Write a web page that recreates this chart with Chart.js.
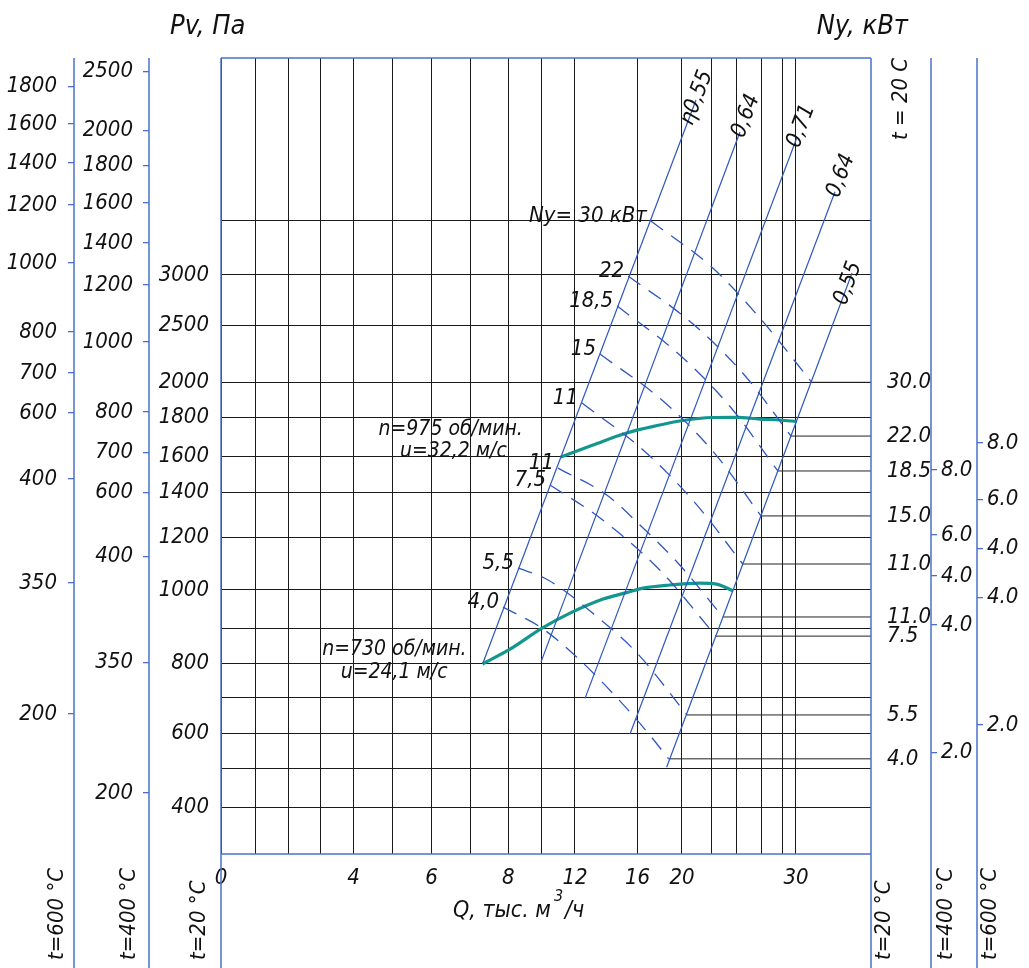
<!DOCTYPE html>
<html>
<head>
<meta charset="utf-8">
<script src="https://cdn.jsdelivr.net/npm/chart.js@4.4.1/dist/chart.umd.min.js"></script>
<style>html,body{margin:0;padding:0;background:#fff}</style>
</head>
<body>
<canvas id="grafico" width="1029" height="968"></canvas>
<script>
// ---------- данные (Q в тыс. м3/ч, Pv в Па при t = 20 °C) ----------
const qLabeled = [0, 4, 6, 8, 12, 16, 20, 30];
const pLabeled = [400, 600, 800, 1000, 1200, 1400, 1600, 1800, 2000, 2500, 3000];

// характеристики вентилятора
const q975 = [11.15, 13.15, 15.3, 18.0, 19.8, 22.1, 24.0, 25.9, 27.75, 30.1];
const p975 = [1595, 1657, 1719, 1760, 1781, 1799, 1800, 1791, 1786, 1778];
const q730 = [7.32, 8.1, 10.0, 11.7, 13.8, 15.3, 16.5, 18.9, 21.2, 22.4, 23.7];
const p730 = [798, 840, 899, 939, 976, 993, 1007, 1019, 1026, 1022, 998];

// лучи КПД: [начало, конец]
const etaLabels = ['η0,55', '0,64', '0,71', '0,64', '0,55'];
const etaQ = [[7.32, 20.95], [9.96, 24.27], [12.64, 30.09], [15.52, 35.2], [18.62, 37.47]];
const etaP = [[798, 4613], [804, 4318], [699, 4260], [598, 3767], [503, 3018]];

// линии мощности двигателя Ny, кВт
const nyValues = [30, 22, 18.5, 15, 11, 11, 7.5, 5.5, 4.0];
const nyLabels = ['Ny= 30 кВт', '22', '18,5', '15', '11', '11', '7,5', '5,5', '4,0'];
const nyQ = [
  [17.2, 22.1, 25.9, 32.1],
  [15.4, 20.75, 24.7, 29.25],
  [14.7, 19.8, 23.5, 27.55],
  [13.6, 18.5, 22.3, 26.0],
  [12.45, 16.7, 20.9, 24.5],
  [10.98, 14.03, 16.5, 19.8, 22.9],
  [10.5, 13.6, 18.0, 22.35],
  [8.58, 10.38, 13.28, 15.97, 20.34],
  [7.86, 10.0, 12.1, 14.7, 17.1, 18.8]
];
const nyP = [
  [3497, 3064, 2576, 2000],
  [2990, 2517, 2056, 1703],
  [2694, 2241, 1859, 1518],
  [2250, 1882, 1610, 1296],
  [1882, 1621, 1353, 1099],
  [1534, 1389, 1242, 1095, 929],
  [1441, 1287, 1076, 877],
  [1084, 1038, 934, 829, 652],
  [955, 900, 818, 700, 595, 527]
];

// дополнительные шкалы (место деления дано в Па по шкале t = 20 °C)
const pv400Labels = ['2500', '2000', '1800', '1600', '1400', '1200', '1000', '800', '700', '600', '400', '350', '200'];
const pv400At = [4874, 4330, 4007, 3663, 3295, 2901, 2356, 1830, 1617, 1399, 1127, 802, 436];
const pv600Labels = ['1800', '1600', '1400', '1200', '1000', '800', '700', '600', '400', '350', '200'];
const pv600At = [4735, 4391, 4032, 3645, 3110, 2444, 2082, 1825, 1474, 1027, 655];
const ny400Labels = ['8.0', '6.0', '4.0', '4.0', '2.0'];
const ny400At = [1523, 1211, 1053, 908, 545];
const ny600Labels = ['8.0', '6.0', '4.0', '4.0', '2.0'];
const ny600At = [1667, 1370, 1159, 981, 624];

// ---------- шкалы номограммы (неравномерная сетка, % ширины / высоты поля) ----------
const qGrid = [0, 1, 2, 3, 4, 5, 6, 7, 8, 10, 12, 16, 20, 22, 24, 26, 28, 30, 40];
const qGridPos = [0, 5.38, 10.46, 15.38, 20.38, 26.31, 32.38, 38.38, 44.2, 49.34, 54.46, 64.08, 70.92, 75.46, 79.34, 83.08, 86.42, 88.46, 100];
const pGrid = [300, 400, 500, 600, 700, 800, 900, 1000, 1200, 1400, 1600, 1800, 2000, 2500, 3000, 3500, 5000];
const pGridPos = [0, 5.9, 10.77, 15.16, 19.6, 23.96, 28.39, 33.17, 39.76, 45.41, 50, 54.86, 59.26, 66.37, 72.74, 79.56, 100];

function interp(v, xs, ys) {
  for (let i = 1; i < xs.length; i++) {
    if (v <= xs[i] || i === xs.length - 1) {
      const t = (v - xs[i - 1]) / (xs[i] - xs[i - 1]);
      return ys[i - 1] + t * (ys[i] - ys[i - 1]);
    }
  }
}
const qx = q => interp(q, qGrid, qGridPos);
const py = p => interp(p, pGrid, pGridPos);
const pts = (qs, ps) => qs.map((q, i) => ({x: qx(q), y: py(ps[i])}));

const FONT = "'Liberation Sans Narrow', 'DejaVu Sans Condensed', 'Liberation Sans', sans-serif";
const BLUE = '#2f57bd';
const AXIS_BLUE = '#4a70c9';
const TEAL = '#13968d';
const tickFont = {family: FONT, size: 22, style: 'italic'};

// ---------- наборы данных ----------
const datasets = [];
etaQ.forEach((qs, i) => datasets.push({
  data: pts(qs, etaP[i]), borderColor: BLUE, borderWidth: 1.2, tension: 0
}));
nyQ.forEach((qs, i) => {
  datasets.push({
    data: pts(qs, nyP[i]), borderColor: BLUE, borderWidth: 1.3,
    borderDash: [15, 10], cubicInterpolationMode: 'monotone'
  });
  const last = qs.length - 1;
  datasets.push({
    data: pts([qs[last], qGrid[qGrid.length - 1]], [nyP[i][last], nyP[i][last]]),
    borderColor: '#222', borderWidth: 1, tension: 0
  });
});
datasets.push({data: pts(q975, p975), borderColor: TEAL, borderWidth: 3.2, cubicInterpolationMode: 'monotone'});
datasets.push({data: pts(q730, p730), borderColor: TEAL, borderWidth: 3.2, cubicInterpolationMode: 'monotone'});
datasets.forEach(d => { d.showLine = true; d.pointRadius = 0; d.fill = false; });

// правая шкала t=20: деления там, где кончаются линии Ny
const nyEndP = nyP.map(ps => ps[ps.length - 1]);

function sideAxis(position, weight, width, at, labels, withTicks, padding) {
  return {
    type: 'linear', position: position, weight: weight, min: 0, max: 100,
    afterBuildTicks: s => { s.ticks = at.map(p => ({value: py(p)})); },
    afterFit: s => { s.width = width; },
    border: {display: false},
    grid: {display: withTicks, drawOnChartArea: false, drawTicks: withTicks, tickLength: 6, color: AXIS_BLUE, lineWidth: 1.3},
    ticks: {autoSkip: false, padding: padding, color: '#111', font: tickFont,
      callback: (v, i) => labels[i]}
  };
}

// ---------- надписи и оси-линии ----------
const decor = {
  id: 'decor',
  afterDraw(chart) {
    const {ctx, chartArea: a, scales: s} = chart;
    const X = q => s.x.getPixelForValue(qx(q));
    const Y = p => s.y.getPixelForValue(py(p));
    const line = (x1, y1, x2, y2) => { ctx.beginPath(); ctx.moveTo(x1, y1); ctx.lineTo(x2, y2); ctx.stroke(); };
    const text = (str, x, y, size, align, rot) => {
      ctx.save();
      ctx.translate(x, y);
      if (rot) ctx.rotate(rot);
      ctx.font = 'italic ' + size + 'px ' + FONT;
      ctx.textAlign = align || 'left';
      ctx.textBaseline = 'middle';
      ctx.fillStyle = '#111';
      ctx.fillText(str, 0, 0);
      ctx.restore();
    };
    ctx.save();
    ctx.strokeStyle = AXIS_BLUE;
    ctx.lineWidth = 1.5;
    [s.y600.right, s.y400.right, a.left, a.right, s.y400R.left, s.y600R.left]
      .forEach(x => line(x, a.top, x, chart.height));
    line(a.left, a.top, a.right, a.top);
    line(a.left, a.bottom, a.right, a.bottom);
    ctx.restore();

    // заголовки шкал
    text('Pv, Па', 170, 27, 27, 'left');
    text('Ny, кВт', 908, 27, 27, 'right');
    text('t = 20 C', a.right + 30, 140, 22, 'left', -Math.PI / 2);
    const bottomT = [
      ['t=600 °C', s.y600.right - 17], ['t=400 °C', s.y400.right - 20], ['t=20 °C', a.left - 22],
      ['t=20 °C', a.right + 13], ['t=400 °C', s.y400R.left + 15], ['t=600 °C', s.y600R.left + 13]
    ];
    bottomT.forEach(([t, x]) => text(t, x, 960, 22, 'left', -Math.PI / 2));

    // подпись оси Q
    ctx.save();
    ctx.font = 'italic 23px ' + FONT;
    ctx.fillStyle = '#111';
    ctx.textBaseline = 'alphabetic';
    const x0 = a.left + 232, base = 917;
    ctx.fillText('Q, тыс. м', x0, base);
    const w = ctx.measureText('Q, тыс. м').width;
    ctx.font = 'italic 16px ' + FONT;
    ctx.fillText('3', x0 + w + 3, base - 16);
    ctx.font = 'italic 23px ' + FONT;
    ctx.fillText('/ч', x0 + w + 14, base);
    ctx.restore();

    // частота вращения
    let sx = X(q975[0]), sy = Y(p975[0]);
    text('n=975 об/мин.', sx - 38, sy - 27, 21, 'right');
    text('u=32,2 м/с', sx - 54, sy - 5, 21, 'right');
    sx = X(q730[0]); sy = Y(p730[0]);
    text('n=730 об/мин.', sx - 16, sy - 14, 21, 'right');
    text('u=24,1 м/с', sx - 35, sy + 9, 21, 'right');

    // мощности
    nyQ.forEach((qs, i) => text(nyLabels[i], X(qs[0]) - 4, Y(nyP[i][0]) - 5, 22, 'right'));

    // КПД вдоль лучей
    const shift = [26, 5, 9, 5, 33];
    etaQ.forEach((qs, i) => {
      const x1 = X(qs[0]), y1 = Y(etaP[i][0]), x2 = X(qs[1]), y2 = Y(etaP[i][1]);
      const ang = Math.atan2(y2 - y1, x2 - x1);
      text(etaLabels[i], x2 - Math.cos(ang) * shift[i], y2 - Math.sin(ang) * shift[i], 22, 'left', ang);
    });
  }
};

new Chart(document.getElementById('grafico'), {
  type: 'scatter',
  data: {datasets: datasets},
  options: {
    responsive: false,
    animation: false,
    devicePixelRatio: 1,
    layout: {padding: {top: 58, left: 0, right: 0, bottom: 0}},
    plugins: {legend: {display: false}, tooltip: {enabled: false}},
    scales: {
      x: {
        type: 'linear', position: 'bottom', min: 0, max: 100,
        afterBuildTicks: s => { s.ticks = qGrid.slice(0, -1).map(q => ({value: qx(q)})); },
        afterFit: s => { s.height = 114; },
        border: {display: false},
        grid: {color: '#1a1a1a', lineWidth: 1, drawTicks: false},
        ticks: {autoSkip: false, maxRotation: 0, padding: 11, color: '#111', font: tickFont,
          callback: (v, i) => qLabeled.includes(qGrid[i]) ? String(qGrid[i]) : ''}
      },
      y: {
        type: 'linear', position: 'left', weight: 0, min: 0, max: 100,
        afterBuildTicks: s => { s.ticks = pGrid.slice(1, -1).map(p => ({value: py(p)})); },
        afterFit: s => { s.width = 72; },
        border: {display: false},
        grid: {color: '#1a1a1a', lineWidth: 1, drawTicks: false},
        ticks: {autoSkip: false, padding: 12, color: '#111', font: tickFont,
          callback: (v, i) => pLabeled.includes(pGrid[i + 1]) ? String(pGrid[i + 1]) : ''}
      },
      y400: sideAxis('left', 1, 75, pv400At, pv400Labels, true, 10),
      y600: sideAxis('left', 2, 74, pv600At, pv600Labels, true, 11),
      yR: sideAxis('right', 0, 60, nyEndP, nyValues.map(v => v.toFixed(1)), false, 16),
      y400R: sideAxis('right', 1, 46, ny400At, ny400Labels, true, 4),
      y600R: sideAxis('right', 2, 52, ny600At, ny600Labels, true, 4)
    }
  },
  plugins: [decor]
});
</script>
</body>
</html>
